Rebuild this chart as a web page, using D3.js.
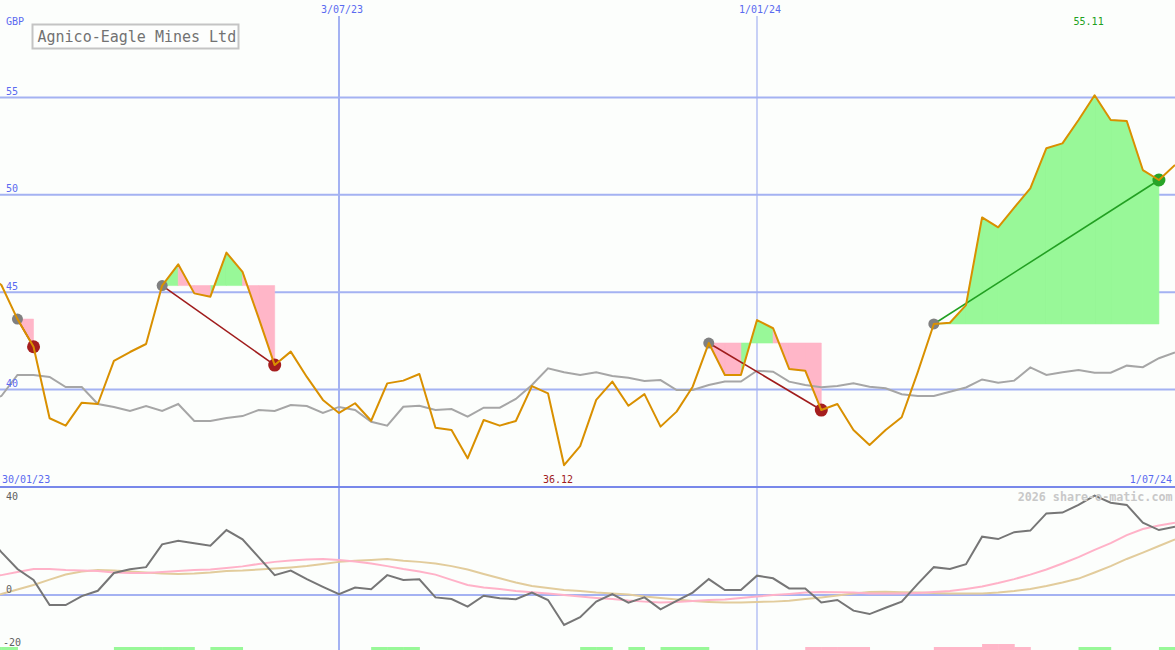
<!DOCTYPE html>
<html><head><meta charset="utf-8">
<script src="https://cdn.jsdelivr.net/npm/d3@7"></script>
<style>body{margin:0;background:#fcfefc} svg{display:block}</style>
</head><body><svg id="c" width="1175" height="650"></svg>
<script>
// ---- data (weekly, starting 30/01/23) ----
const startDate = "2023-01-30";
const endDate = "2024-07-01";
const price = [46.0,45.37,43.62,42.20,38.53,38.15,39.33,39.26,41.47,41.93,
  42.34,45.34,46.43,44.94,44.77,47.03,46.04,43.68,41.26,41.95,
  40.65,39.47,38.80,39.30,38.40,40.32,40.46,40.80,38.04,37.93,
  36.47,38.44,38.15,38.39,40.18,39.81,36.12,37.10,39.47,40.41,
  39.17,39.77,38.10,38.87,40.15,42.39,40.75,40.75,43.57,43.15,
  41.06,40.97,38.95,39.26,37.93,37.16,37.93,38.58,40.90,43.37,
  43.43,44.34,48.84,48.33,49.34,50.33,52.39,52.64,53.84,55.11,
  53.84,53.79,51.27,50.76,51.53];
const avg = [39.36,39.67,40.75,40.75,40.65,40.13,40.13,39.26,39.11,38.90,
  39.16,38.90,39.26,38.39,38.39,38.54,38.64,38.95,38.90,39.21,
  39.16,38.80,39.11,38.95,38.35,38.15,39.12,39.17,38.95,39.00,
  38.61,39.07,39.07,39.52,40.24,41.09,40.89,40.75,40.89,40.70,
  40.61,40.44,40.49,39.98,39.98,40.24,40.41,40.41,40.97,40.92,
  40.41,40.24,40.12,40.18,40.32,40.15,40.07,39.76,39.67,39.67,
  39.89,40.11,40.52,40.35,40.46,41.14,40.75,40.89,41.01,40.87,
  40.87,41.23,41.15,41.61,41.91];
const mom = [23,16.2,9.8,5.7,-3.8,-3.8,-0.4,1.6,8.3,9.7,
  10.5,19.1,20.5,19.5,18.6,24.5,21.0,14.3,7.5,9.2,
  6.0,3.1,0.3,2.8,2.2,7.5,5.7,5.9,-0.9,-1.5,
  -4.4,-0.3,-1.2,-1.6,0.9,-1.9,-11.3,-8.4,-2.5,0.3,
  -2.9,-0.9,-5.4,-2.2,0.9,6.0,1.9,1.9,7.3,6.3,
  2.5,2.5,-2.8,-1.9,-5.9,-7.2,-4.8,-2.5,4.2,10.5,
  9.8,11.6,22.0,21.1,23.7,24.3,30.8,31.1,34.0,37.5,
  34.8,34.0,27.3,24.5,25.8];
const momFast = [6.8,7.5,8.7,9.8,9.8,9.4,9.2,9.1,8.5,8.3,
  8.3,8.7,9.1,9.4,9.6,10.2,10.8,11.7,12.5,13.0,
  13.4,13.6,13.2,12.6,11.9,10.9,9.8,8.9,7.7,5.7,
  3.8,2.8,2.3,1.5,1.0,0.6,0.0,-0.6,-1.1,-1.5,
  -2.1,-2.5,-2.8,-2.6,-2.3,-1.9,-1.7,-1.1,-0.6,0.0,
  0.4,0.9,1.1,1.0,0.9,0.6,0.6,0.6,0.8,1.1,
  1.5,2.3,3.2,4.5,6.0,7.7,9.6,11.9,14.3,17.0,
  19.6,22.6,24.9,26.2,27.3];
const momSlow = [-1.1,0.4,2.1,3.8,5.8,7.7,8.9,9.4,9.2,8.9,
  8.5,8.1,7.9,8.1,8.5,9.1,9.2,9.6,10.0,10.4,
  10.9,11.7,12.5,12.9,13.2,13.6,12.9,12.5,11.9,10.9,
  9.6,7.9,6.3,4.7,3.4,2.6,1.9,1.5,0.9,0.6,
  0.2,-0.6,-1.1,-1.7,-2.3,-2.6,-2.8,-2.8,-2.6,-2.5,
  -2.2,-1.5,-0.9,-0.2,0.6,1.1,1.2,1.0,0.9,0.8,
  0.6,0.6,0.6,0.9,1.5,2.3,3.4,4.7,6.2,8.5,
  10.9,13.6,16.0,18.5,21.0];
const signalBars = [1,1,0,0,0,0,0,0,1,1,
  1,1,1,0,1,1,0,0,0,0,
  0,0,0,0,1,1,1,0,0,0,
  0,0,0,0,0,0,0,1,1,0,
  1,0,1,1,1,0,0,0,0,0,
  0,-1,-1,-1,-1,0,0,0,0,-1,
  -1,-1,-2,-2,-1,0,0,0,1,1,
  0,0,0,1];
const tradeEntry = [2, 11, 45, 59];
const tradeExit = [3, 18, 52, 73];
const priceTicks = [40, 45, 50, 55];
const momTicks = [40, 0, -20];
const dateTicks = ["2023-07-03", "2024-01-01"];
const dateTickLabels = ["3/07/23", "1/01/24"];
const title = "Agnico-Eagle Mines Ltd";

// ---- setup ----
const W = 1175, H = 650;
const parse = d3.utcParse("%Y-%m-%d");
const t0 = parse(startDate);
const dates = price.map((_, i) => d3.utcDay.offset(t0, 7 * i));
const x = d3.scaleUtc().domain([t0, parse(endDate)]).range([-14.7, W]);
const y = d3.scaleLinear().domain([35, 60]).range([487, 0]);
const yL = d3.scaleLinear().domain([-20, 40]).range([648, 489]);
const barH = d3.scaleLinear().domain([0, 2]).range([0, 6]);

const MONO = "'DejaVu Sans Mono', monospace";
const GRID = "#a4b2f2", BLUE_TXT = "#5a6af0";
const svg = d3.select("#c");
svg.append("rect").attr("width", W).attr("height", H).attr("fill", "#fcfefc");

const defs = svg.append("defs");
defs.append("clipPath").attr("id", "cm").append("rect").attr("x", 0).attr("y", 0).attr("width", W).attr("height", 486);
defs.append("clipPath").attr("id", "cl").append("rect").attr("x", 0).attr("y", 488).attr("width", W).attr("height", H - 488);

// horizontal price grid
svg.append("g").selectAll("line").data(priceTicks).join("line")
  .attr("x1", 0).attr("x2", W).attr("y1", d => y(d)).attr("y2", d => y(d))
  .attr("stroke", GRID).attr("stroke-width", 2);
// lower zero line
svg.append("line").attr("x1", 0).attr("x2", W).attr("y1", yL(0)).attr("y2", yL(0))
  .attr("stroke", GRID).attr("stroke-width", 2);
// vertical date lines
svg.append("g").selectAll("line").data(dateTicks).join("line")
  .attr("x1", d => x(parse(d))).attr("x2", d => x(parse(d)))
  .attr("y1", 16).attr("y2", H)
  .attr("stroke", GRID).attr("stroke-width", (d, i) => i === 0 ? 2 : 1.2);

// ---- main panel ----
const gm = svg.append("g").attr("clip-path", "url(#cm)");
const GREEN_FILL = "#98f898", PINK_FILL = "#ffb6c8";
tradeEntry.forEach((e, k) => {
  const E = price[e];
  const parts = { g: "", p: "" };
  for (let i = e; i < tradeExit[k]; i++) {
    const pts = [[x(dates[i]), y(E)], [x(dates[i]), y(price[i])],
                 [x(dates[i + 1]), y(price[i + 1])], [x(dates[i + 1]), y(E)]];
    parts[price[i + 1] >= E ? "g" : "p"] += "M" + pts.join("L") + "Z";
  }
  if (parts.g) gm.append("path").attr("d", parts.g).attr("fill", GREEN_FILL).attr("stroke", GREEN_FILL).attr("stroke-width", 0.6);
  if (parts.p) gm.append("path").attr("d", parts.p).attr("fill", PINK_FILL).attr("stroke", PINK_FILL).attr("stroke-width", 0.6);
});

const lineM = d3.line().x((d, i) => x(dates[i])).y(d => y(d));
gm.append("path").datum(avg).attr("d", lineM).attr("fill", "none")
  .attr("stroke", "#a6a6a6").attr("stroke-width", 2);

// trade lines
tradeEntry.forEach((e, k) => {
  const xx = tradeExit[k];
  gm.append("line")
    .attr("x1", x(dates[e])).attr("y1", y(price[e]))
    .attr("x2", x(dates[xx])).attr("y2", y(price[xx]))
    .attr("stroke", price[xx] >= price[e] ? "#22a022" : "#a01c1c").attr("stroke-width", 1.6);
});
// dots
tradeEntry.forEach((e, k) => {
  const xx = tradeExit[k];
  gm.append("circle").attr("cx", x(dates[e])).attr("cy", y(price[e])).attr("r", 5.5).attr("fill", "#808080");
  gm.append("circle").attr("cx", x(dates[xx])).attr("cy", y(price[xx])).attr("r", 6.5)
    .attr("fill", price[xx] >= price[e] ? "#28a428" : "#a51e1e");
});

gm.append("path").datum(price).attr("d", lineM).attr("fill", "none")
  .attr("stroke", "#d99000").attr("stroke-width", 2).attr("stroke-linejoin", "round");

// ---- lower panel ----
const gl = svg.append("g").attr("clip-path", "url(#cl)");
signalBars.forEach((v, i) => {
  if (!v) return;
  const x0 = x(dates[i]), x1 = x(dates[i + 1]);
  gl.append("rect").attr("x", x0).attr("width", x1 - x0 + 0.5)
    .attr("y", H - barH(Math.abs(v))).attr("height", barH(Math.abs(v)))
    .attr("fill", v > 0 ? GREEN_FILL : PINK_FILL);
});
const lineL = d3.line().x((d, i) => x(dates[i])).y(d => yL(d));
gl.append("path").datum(momSlow).attr("d", lineL).attr("fill", "none").attr("stroke", "#e2cc9c").attr("stroke-width", 2);
gl.append("path").datum(momFast).attr("d", lineL).attr("fill", "none").attr("stroke", "#ffb2c8").attr("stroke-width", 2);
gl.append("path").datum(mom).attr("d", lineL).attr("fill", "none").attr("stroke", "#767676").attr("stroke-width", 2);

// separator
svg.append("line").attr("x1", 0).attr("x2", W).attr("y1", 487).attr("y2", 487)
  .attr("stroke", "#7888ea").attr("stroke-width", 2);

// ---- texts ----
const txt = (s, tx, ty, opts = {}) => svg.append("text").text(s).attr("x", tx).attr("y", ty)
  .attr("font-family", MONO).attr("font-size", opts.size || 10)
  .attr("font-weight", opts.weight || "normal")
  .attr("text-anchor", opts.anchor || "start").attr("fill", opts.fill || BLUE_TXT);

txt("GBP", 6, 25);
priceTicks.forEach(v => txt(String(v), 6, y(v) - 2.5));
dateTicks.forEach((d, i) => txt(dateTickLabels[i], x(parse(d)) + 3, 13, { anchor: "middle" }));
txt("30/01/23", 2, 483);
txt(d3.utcFormat("%-d/%m/%y")(parse(endDate)), 1172, 483, { anchor: "end" });

const iMax = d3.maxIndex(price), iMin = d3.minIndex(price);
txt(price[iMax].toFixed(2), x(dates[iMax]) - 6, 25, { anchor: "middle", fill: "#20a020" });
txt(price[iMin].toFixed(2), x(dates[iMin]) - 6, 483, { anchor: "middle", fill: "#a01c1c" });

txt("2026 share-o-matic.com", 1172.5, 500.5, { anchor: "end", size: 11.7, weight: "bold", fill: "#c8c8c8" });
momTicks.forEach(v => txt(String(v), v === -20 ? 3 : 6, v === 40 ? yL(v) + 11 : yL(v) - 2, { fill: "#606060" }));

// title box
svg.append("rect").attr("x", 32.5).attr("y", 24.5).attr("width", 206).attr("height", 24)
  .attr("fill", "#fdfefd").attr("stroke", "#c4c4c4").attr("stroke-width", 2);
txt(title, 37.5, 42, { size: 15, fill: "#727272" });
</script>
</body></html>
